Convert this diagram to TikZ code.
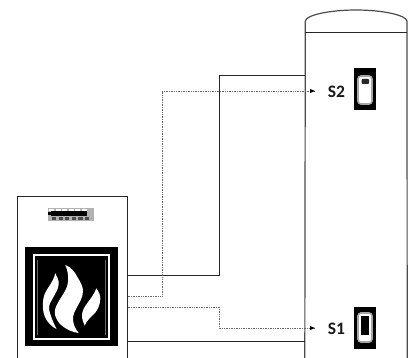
\documentclass[tikz,border=0pt]{standalone}
\usepackage{fontspec}
\setmainfont{Carlito}
\usetikzlibrary{arrows.meta}
\tikzset{
    wall/.style={draw=black!70, line width=1.2pt},
    pipe/.style={draw=black!85, line width=0.9pt},
    signal/.style={draw=black!60, line width=0.7pt, densely dotted},
    flame/.style={fill=white, draw=none},
    sensorbox/.style={fill=black, draw=none, inner sep=0pt, minimum width=21.5pt},
    sensorlabel/.style={font=\bfseries\fontsize{17.5}{17.5}\selectfont, inner sep=0pt, text=black!90}
}
\begin{document}
\begin{tikzpicture}[x=1pt, y=-1pt]
    \clip (0,0) rectangle (417,358);
    \fill[white] (0,0) rectangle (417,358);

    % 1. Caldera y ventana del fuego
    \node[draw=black!85, line width=1pt, fill=white, minimum width=110pt, minimum height=200pt, inner sep=0pt] (boiler) at (72,296) {};
    \node[fill=black, inner sep=0pt, minimum width=93pt, minimum height=99pt] (window) at (71.5,296.5) {};
    \node[draw=white, line width=2.6pt, fill=black, inner sep=0pt, minimum width=75pt, minimum height=84pt] (ring) at (71.5,297) {};
    \draw[black!60, line width=0.8pt] (37.5,260) -- (37.5,335) (105.5,260) -- (105.5,335);

    % 2. Llamas
    \fill[flame] (55.3,273.3) .. controls (57,277) and (59,280) .. (58.7,284)
        .. controls (58.4,289) and (56,292) .. (54,296)
        .. controls (52,300) and (49.5,303) .. (49,307)
        .. controls (48.8,312) and (53,322) .. (56.5,329)
        .. controls (52,327) and (47,322) .. (45,317)
        .. controls (42,310) and (42.5,301) .. (44,296)
        .. controls (46,289) and (53,283) .. (55.3,273.3) -- cycle;
    \fill[flame] (65.3,265) .. controls (71,267) and (75,272) .. (78,278)
        .. controls (81,283) and (83,287) .. (83,291)
        .. controls (83,298) and (79,303) .. (76,309)
        .. controls (73,314) and (72,319) .. (74,325)
        .. controls (75,328) and (77,331) .. (78.7,333)
        .. controls (73,332.5) and (65,329) .. (60,324)
        .. controls (56,319) and (54,315) .. (55,310)
        .. controls (56,304) and (62,297) .. (66,289)
        .. controls (69,283) and (69,273) .. (65.3,265) -- cycle;
    \fill[flame] (96.3,288.3) .. controls (99,292) and (100.5,295) .. (100.3,299)
        .. controls (100,305) and (98,309) .. (95,313)
        .. controls (91,317) and (87,320) .. (84.7,325.5)
        .. controls (82,320) and (81.5,316) .. (82.5,312)
        .. controls (84,305) and (93,298) .. (96.3,288.3) -- cycle;

    % 3. Pantalla de la caldera
    \node[fill=black!30, inner sep=0pt, minimum width=46pt, minimum height=13pt] (display) at (70.5,214.5) {};
    \foreach \i in {0,...,5} {
        \fill[white] (49+\i*6.6,208.5) rectangle ++(5,2);
    }
    \fill[black] (51,211) rectangle (87,216);
    \fill[black] (48,212) rectangle (51,215);
    \foreach \i in {0,...,5} {
        \fill[black!70] (52+\i*6.6,217) rectangle ++(4.2,3);
    }

    % 4. Acumulador
    \node[inner sep=0pt, minimum width=102pt, minimum height=330pt] (tank) at (356,197.5) {};
    \draw[wall] (tank.south west) -- (305.3,21) .. controls (306,15) and (330,10) .. (356,10)
        .. controls (382,10) and (406,15) .. (407,21) -- (tank.south east);
    \draw[black!85, line width=1.2pt] (tank.north west) -- (tank.north east);

    % 5. Sondas
    \node[sensorbox, minimum height=42pt] (boxS2) at (365,89.5) {};
    \node[sensorbox, minimum height=42pt] (boxS1) at (365,327.5) {};
    \draw[draw=black!35, fill=white, line width=1.6pt, rounded corners=3pt] (358,76) rectangle (372,104);
    \fill[black!85, rounded corners=1pt] (361.5,79) rectangle (369,84);
    \draw[draw=black!35, fill=white, line width=1.6pt, rounded corners=3pt] (358,313) rectangle (372,342);
    \fill[black] (361,316) rectangle (369,335);
    \node[sensorlabel] (S2) at (336.5,92) {S2};
    \node[sensorlabel] (S1) at (336.5,329) {S1};

    % 6. Tuberias y senales
    \coordinate (outA) at (boiler.east |- 0,275);
    \coordinate (inA) at (tank.west |- 0,75.5);
    \coordinate (outB) at (boiler.east |- 0,296);
    \coordinate (tipB) at (315,91);
    \coordinate (outC) at (boiler.east |- 0,307);
    \coordinate (tipC) at (315,328);
    \coordinate (outD) at (boiler.east |- 0,341);
    \coordinate (inD) at (tank.west |- 0,341);
    \draw[pipe] (outA) -- (219,275) -- (219,75.5) -- (inA);
    \draw[pipe] (outD) -- (inD);
    \draw[signal] (outB) -- (162,296) -- (162,91) -- (tipB);
    \draw[signal] (outC) -- (219,307) -- (219,328) -- (tipC);
    \fill[black] (tipB) -- ++(-5,-2) -- ++(0,4) -- cycle;
    \fill[black] (tipC) -- ++(-5,-2) -- ++(0,4) -- cycle;

\end{tikzpicture}
\end{document}
